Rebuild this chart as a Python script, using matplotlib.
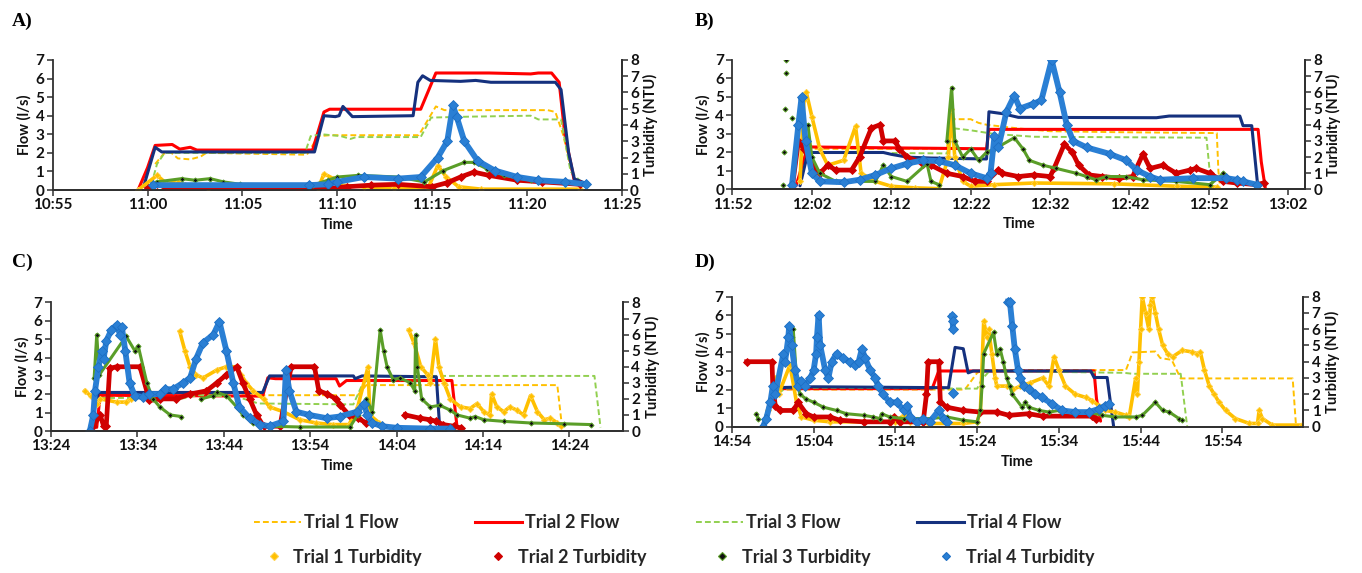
import numpy as np
import matplotlib
matplotlib.use('Agg')
import matplotlib.pyplot as plt
from matplotlib.lines import Line2D
import matplotlib.ticker as ticker

plt.rcParams['font.family'] = ['Lato', 'DejaVu Sans']

# ---- data: (minutes after panel start, value); None = gap in record ----
# Panel A, starts 10:55
a_flow1 = [(5.4, 1.4), (5.85, 1.95), (6.2, 2.05), (6.6, 1.7), (7.25, 1.65), (7.8, 1.8), (8.1, 2.0),
           (13.4, 1.9), (14.0, 2.9), (14.6, 2.95), (19.3, 2.95), (20.2, 4.5), (20.65, 4.3),
           (26.1, 4.3), (26.5, 4.2), (26.9, 3.0), (27.5, 0.5)]
a_flow2 = [(4.5, 0.0), (5.0, 1.2), (5.4, 2.4), (6.3, 2.45), (6.7, 2.2), (7.25, 2.3), (7.6, 2.15),
           (13.7, 2.15), (14.3, 4.2), (14.6, 4.35), (19.4, 4.35), (20.2, 6.3), (23.0, 6.3),
           (25.2, 6.25), (25.6, 6.3), (26.3, 6.3), (26.7, 5.8), (27.0, 3.0), (27.5, 0.5), (27.8, 0.3)]
a_flow3 = [(5.2, 0.3), (5.5, 1.4), (5.9, 2.0), (13.3, 2.0), (13.6, 2.9), (14.2, 3.0), (15.2, 2.9),
           (15.7, 2.75), (16.0, 2.85), (19.4, 2.85), (19.95, 3.9), (22.0, 3.95), (25.2, 4.0),
           (25.6, 3.8), (26.8, 3.8), (27.3, 1.0), (27.8, 0.5)]
a_flow4 = [(4.8, 0.2), (5.4, 2.3), (5.75, 2.05), (13.8, 2.05), (14.3, 4.0), (14.9, 3.95), (15.1, 4.0),
           (15.3, 4.5), (15.8, 3.95), (19.0, 4.0), (19.25, 5.8), (19.5, 6.15), (19.9, 5.9),
           (21.5, 5.85), (22.3, 5.9), (23.1, 5.8), (26.5, 5.8), (26.8, 5.4), (27.2, 2.0),
           (27.5, 0.6), (28.0, 0.4)]
a_turb1 = [(4.5, 0.0), (5.5, 0.9), (6.0, 0.4), (6.6, 0.5), (7.0, 0.3), (8.2, 0.1), (14.0, 0.1),
           (14.3, 1.0), (14.8, 0.7), (15.2, 0.3), (16.4, 0.2), (18.0, 0.1), (19.8, 0.15),
           (20.3, 1.5), (20.75, 0.8), (21.4, 0.2), (22.6, 0.05), (27.8, 0.05)]
a_turb2 = [(5.0, 0.1), (5.5, 0.4), (6.0, 0.1), (7.0, 0.05), (13.0, 0.05), (14.5, 0.1), (15.5, 0.2),
           (16.8, 0.3), (18.2, 0.35), (20.0, 0.2), (20.8, 0.45), (21.5, 0.8), (22.2, 1.1),
           (23.0, 0.9), (24.5, 0.6), (25.8, 0.5), (27.8, 0.35)]
a_turb3 = [(5.5, 0.5), (6.8, 0.7), (7.5, 0.6), (8.3, 0.7), (9.0, 0.5), (9.9, 0.35), (13.7, 0.3),
           (14.5, 0.6), (15.0, 0.8), (16.1, 0.9), (18.2, 0.8), (19.6, 0.5), (20.6, 1.2),
           (21.7, 1.7), (22.2, 1.7), (22.9, 1.3), (23.8, 0.9), (25.2, 0.6), (27.0, 0.5)]
a_turb4 = [(5.3, 0.3), (13.5, 0.3), (14.5, 0.35), (15.0, 0.5), (16.4, 0.8), (18.2, 0.7), (19.4, 0.8),
           (20.3, 2.0), (20.8, 3.0), (21.1, 5.2), (21.3, 4.5), (21.7, 3.0), (22.4, 1.8),
           (23.3, 1.2), (24.5, 0.8), (25.6, 0.6), (27.0, 0.5), (28.1, 0.35)]

# Panel B, starts 11:52
b_flow1 = [(8.5, 0.3), (9.2, 2.2), (27.0, 2.2), (27.5, 3.8), (30.0, 3.8), (31.0, 3.6), (32.0, 3.5),
           (36.0, 3.3), (40.0, 3.15), (48.0, 3.1), (61.0, 3.05), (61.2, 1.0), (61.4, 0.2)]
b_flow2 = [(8.0, 0.2), (9.5, 2.3), (20.0, 2.25), (32.0, 2.2), (32.3, 3.25), (66.2, 3.25),
           (66.6, 1.5), (67.1, 0.1)]
b_flow3 = [(8.5, 0.3), (9.5, 2.0), (27.0, 1.95), (28.0, 3.3), (30.0, 3.2), (33.0, 3.0), (38.0, 2.85),
           (59.7, 2.8), (60.1, 1.0), (60.5, 0.3)]
b_flow4 = [(8.5, 0.2), (9.5, 2.0), (19.0, 2.0), (20.0, 1.9), (22.0, 1.75), (25.0, 1.7), (32.0, 1.65),
           (32.3, 4.2), (34.0, 4.1), (36.0, 3.9), (53.4, 3.88), (55.0, 3.97), (63.9, 3.97),
           (64.3, 3.45), (65.4, 3.45), (66.2, 0.0)]
b_turb1 = [(8.5, 0.5), (9.0, 5.5), (9.3, 6.0), (10.0, 4.5), (11.0, 2.5), (12.0, 1.5), (14.0, 1.8),
           (15.5, 3.9), (16.2, 1.0), (18.0, 0.5), (20.0, 0.2), (23.0, 0.1), (26.0, 0.05),
           (27.2, 2.0), (27.5, 5.0), (28.0, 2.0), (29.0, 0.5), (30.0, 0.2), (33.0, 0.3),
           (38.0, 0.4), (48.0, 0.35), (56.0, 0.2), (61.0, 0.15)]
b_turb2 = [(7.5, 0.0), (8.3, 3.0), (9.0, 2.5), (10.0, 1.5), (11.0, 1.0), (12.0, 1.5), (13.0, 1.2),
           (15.0, 1.2), (16.0, 2.0), (17.5, 3.8), (18.6, 4.0), (19.0, 3.0), (20.5, 3.0),
           (21.0, 2.5), (22.0, 2.0), (24.0, 1.6), (25.0, 1.5), (27.0, 1.0), (29.0, 0.8),
           (30.5, 0.5), (32.0, 0.5), (33.5, 1.2), (34.0, 1.0), (36.0, 0.8), (38.0, 0.9),
           (40.0, 0.8), (40.5, 1.3), (41.8, 2.8), (42.8, 2.3), (43.6, 1.5), (44.9, 0.9),
           (46.6, 0.8), (48.7, 0.7), (50.4, 0.8), (51.7, 2.2), (52.6, 1.3), (54.2, 1.5),
           (55.9, 1.0), (57.6, 1.2), (58.4, 1.3), (60.1, 1.0), (61.8, 0.5), (63.5, 0.4),
           (66.0, 0.3), (66.9, 0.4)]
b_turb3 = [(6.3, 0.3), None, (6.5, 2.3), None, (6.6, 5.0), None, (6.7, 7.2), None, (6.8, 8.0), None,
           (7.5, 4.4), None, (9.5, 4.0), (10.0, 2.0), (11.0, 1.0), (13.0, 0.5), (18.0, 0.5),
           (19.0, 1.5), (20.0, 0.8), (22.0, 0.5), (24.5, 1.6), (25.0, 0.5), (26.0, 0.3), None,
           (27.0, 3.0), (27.6, 6.3), (28.0, 3.0), (29.0, 2.0), (30.0, 2.5), (31.0, 1.8),
           (32.0, 2.3), (33.0, 2.5), (35.5, 3.2), (36.6, 2.5), (37.4, 1.8), (39.1, 1.5),
           (40.8, 1.3), (43.3, 1.0), (44.6, 0.8), (45.8, 0.6), (47.1, 0.8), (49.6, 0.8),
           (51.7, 0.6), (55.9, 0.5), (60.1, 0.3), (61.4, 0.8), (61.8, 1.0)]
b_turb4 = [(7.5, 0.3), (8.3, 4.0), (8.7, 5.7), (9.2, 3.0), (10.0, 1.0), (11.0, 0.5), (14.0, 0.45),
           (16.0, 0.6), (18.0, 0.9), (20.0, 1.3), (22.0, 1.6), (24.0, 1.8), (26.0, 1.75),
           (28.0, 1.5), (30.0, 1.0), (32.0, 0.7), (32.5, 1.0), (33.0, 3.3), (33.5, 2.6),
           (34.5, 4.8), (35.5, 5.8), (36.2, 5.0), (37.9, 5.3), (38.9, 5.5), (40.2, 8.0),
           (41.2, 6.0), (42.1, 4.0), (42.9, 3.0), (44.6, 2.6), (47.5, 2.2), (49.6, 1.8),
           (50.9, 1.2), (52.6, 0.8), (53.8, 0.6), (58.0, 0.7), (62.2, 0.7), (63.5, 0.6),
           (64.3, 0.5), (66.0, 0.3)]

# Panel C, starts 13:24
c_flow1 = [(5.5, 1.9), (24.0, 1.95), (35.5, 1.95), (36.5, 2.5), (58.6, 2.5), (59.2, 0.0)]
c_flow2 = [(5.3, 0.2), (5.7, 1.95), (24.5, 1.9), (25.1, 2.9), (26.0, 2.85), (33.0, 2.85),
           (33.4, 2.45), (34.2, 2.75), (46.4, 2.75), (47.0, 0.2)]
c_flow3 = [(5.7, 1.8), (9.0, 1.8), (15.0, 1.75), (17.0, 1.95), (20.0, 1.9), (22.0, 1.8),
           (24.0, 1.5), (35.0, 1.45), (36.0, 2.5), (37.0, 3.0), (62.9, 3.0), (63.6, 0.2)]
c_flow4 = [(4.5, 0.2), (5.5, 2.1), (24.5, 2.1), (25.3, 3.0), (35.0, 3.0), (35.2, 2.85),
           (36.0, 3.0), (44.6, 2.95), (45.0, 0.1)]
c_turb1 = [(3.9, 2.5), (4.6, 2.2), (5.3, 1.7), (5.7, 2.0), (7.6, 1.8), (8.7, 1.8), (9.3, 2.0), None,
           (14.9, 6.2), (15.5, 5.0), (16.1, 4.0), (16.8, 3.5), (17.6, 3.3), (19.2, 3.8),
           (20.3, 4.0), (21.5, 4.0), (22.0, 3.5), (22.6, 3.0), (23.4, 2.5), (24.6, 2.0),
           (25.3, 1.5), (26.9, 1.2), (28.8, 0.7), (30.7, 0.5), (32.6, 0.4), (34.5, 0.4),
           (35.5, 1.5), (36.7, 4.0), (36.9, 1.0), (38.0, 0.5), None,
           (41.4, 6.3), (42.0, 5.5), (42.8, 4.0), (43.6, 3.5), (43.9, 3.0), (44.5, 5.7),
           (44.9, 4.0), (45.5, 3.0), (46.2, 2.0), (47.4, 1.5), (48.5, 1.4), (49.3, 1.7),
           (50.1, 1.2), (50.8, 1.0), (51.0, 2.3), (51.6, 1.5), (52.4, 1.2), (53.1, 1.5),
           (53.9, 1.3), (54.7, 1.0), (55.5, 2.2), (56.3, 1.2), (57.1, 0.7), (57.8, 0.8),
           (58.6, 0.5), (59.0, 0.3)]
c_turb2 = [(4.9, 0.3), (5.7, 1.0), (6.1, 0.3), (6.4, 0.3), (6.8, 3.9), (7.6, 4.0), (10.3, 4.0),
           (11.4, 1.9), (12.6, 2.0), (14.5, 2.0), (16.1, 2.3), (18.0, 2.5), (19.2, 3.0),
           (20.3, 3.5), (21.5, 4.0), (22.2, 3.0), (23.0, 2.0), (23.8, 1.0), (24.6, 0.3),
           (26.5, 0.3), (27.8, 4.0), (30.5, 4.0), (31.0, 2.5), (32.0, 2.3), (33.0, 2.0),
           (33.5, 1.6), (34.5, 1.0), (35.5, 0.8), (36.5, 0.5), None,
           (41.0, 1.0), (42.7, 0.8), (43.9, 0.7), (44.6, 0.6), (45.4, 0.4), (46.6, 0.3), (47.4, 0.2)]
c_turb3 = [(5.0, 3.3), (5.3, 6.0), (5.6, 3.5), (8.7, 5.9), (9.7, 5.0), (10.1, 5.3), (11.1, 3.0),
           (11.8, 2.0), (12.6, 1.5), (13.8, 1.0), (15.1, 0.9), None,
           (17.4, 2.0), (18.8, 2.2), (19.2, 2.4), (20.3, 2.2), (21.5, 1.5), (22.2, 1.0),
           (23.4, 0.5), (25.3, 0.3), (28.8, 0.25), (34.6, 0.25), (35.5, 1.0), (36.5, 2.0),
           (37.2, 1.2), (38.1, 6.3), (38.5, 5.0), (38.9, 4.0), (39.6, 3.2), (40.4, 3.3),
           (41.6, 3.0), (42.1, 2.5), (42.2, 6.0), (42.4, 4.0), (42.9, 2.0), (43.9, 1.5),
           (45.0, 1.6), (46.2, 1.3), (47.0, 1.0), (48.5, 0.8), (49.1, 0.9), (50.1, 0.7),
           (52.4, 0.6), (55.5, 0.5), (59.4, 0.45), (62.5, 0.4)]
c_turb4 = [(4.5, 0.0), (4.9, 1.0), (5.1, 2.5), (5.5, 4.0), (5.9, 5.0), (6.1, 4.5), (6.4, 5.6),
           (7.0, 6.3), (7.6, 6.6), (8.0, 6.0), (8.2, 6.5), (8.6, 5.0), (9.1, 3.0), (9.7, 2.2),
           (10.7, 2.1), (11.4, 2.3), (12.6, 2.3), (13.2, 2.6), (14.1, 2.6), (15.3, 3.0),
           (16.1, 3.3), (16.8, 4.5), (17.6, 5.5), (18.8, 6.0), (19.5, 6.8), (20.3, 5.0),
           (21.1, 3.0), (21.8, 1.5), (23.0, 0.8), (24.2, 0.4), (25.3, 0.3), (26.9, 0.6),
           (27.2, 3.8), (27.6, 2.5), (28.4, 1.2), (29.9, 1.0), (31.9, 0.8), (33.4, 0.9),
           (35.4, 1.2), (36.2, 1.7), (36.6, 1.0), (37.2, 0.5), (38.3, 0.3), (40.0, 0.2),
           (43.9, 0.15), (46.2, 0.15)]

# Panel D, starts 14:54
d_flow1 = [(5.6, 2.0), (10.4, 2.0), (28.5, 2.0), (29.0, 2.3), (30.0, 2.9), (30.8, 3.05),
           (48.2, 3.05), (48.6, 3.5), (49.0, 4.0), (51.8, 4.05), (52.4, 3.7), (53.8, 3.6),
           (54.9, 2.6), (68.6, 2.6), (69.0, 0.1)]
d_flow2 = [(5.0, 2.05), (24.5, 2.05), (25.3, 3.0), (44.3, 3.0), (44.6, 1.5), (45.1, 0.3)]
d_flow3 = [(5.7, 1.8), (6.5, 2.05), (10.4, 2.1), (30.0, 2.05), (30.5, 2.5), (31.5, 3.0),
           (48.0, 2.9), (49.0, 2.85), (54.9, 2.85), (55.7, 0.0)]
d_flow4 = [(3.8, 0.0), (5.1, 2.1), (10.0, 2.15), (26.5, 2.1), (27.3, 4.27), (28.3, 4.2),
           (28.9, 2.9), (29.5, 3.0), (43.9, 3.0), (44.3, 2.65), (45.9, 2.65), (46.7, 0.0)]
d_turb1 = [(3.8, 0.0), (4.4, 1.0), (5.3, 3.0), (5.7, 2.0), (7.1, 3.8), (7.9, 1.5), (8.5, 0.6),
           (10.0, 0.4), (12.0, 0.3), (20.0, 0.3), (21.0, 0.7), (21.8, 0.3), (24.0, 0.2),
           (28.3, 0.2), (30.0, 0.3), (30.4, 1.0), (30.8, 6.5), (31.2, 5.5), (31.4, 6.0),
           (31.8, 4.5), (32.2, 3.0), (32.4, 2.5), (33.6, 2.5), (34.4, 2.3), (35.3, 2.5),
           (36.5, 2.7), (38.0, 3.0), (38.8, 2.5), (39.4, 4.3), (40.0, 3.5), (40.8, 2.5),
           (42.0, 2.0), (43.3, 1.8), (44.1, 1.6), (44.9, 1.3), (45.7, 1.0), (46.9, 0.9),
           (48.2, 0.7), (48.6, 0.6), (49.4, 3.0), (49.6, 2.0), (49.8, 4.0), (50.0, 6.0),
           (50.2, 8.0), (50.6, 7.0), (51.0, 6.0), (51.2, 7.5), (51.4, 8.0), (51.8, 7.0),
           (52.2, 6.0), (52.7, 5.0), (53.3, 4.5), (53.9, 4.3), (55.1, 4.7), (56.3, 4.6),
           (56.9, 4.5), (57.3, 4.6), (57.8, 3.5), (58.4, 2.5), (59.0, 2.0), (59.6, 1.5),
           (60.4, 1.0), (61.6, 0.5), (63.3, 0.2), (64.3, 0.2), (64.5, 1.0), (64.9, 0.5),
           (66.1, 0.1), (69.8, 0.1)]
d_turb2 = [(1.8, 4.0), (4.9, 4.0), (5.0, 2.5), (5.3, 1.3), (5.9, 1.0), (7.5, 1.0), (8.1, 1.5),
           (9.1, 0.8), (10.0, 0.6), (12.0, 0.6), (13.2, 0.4), (16.1, 0.3), (19.3, 0.3),
           (19.8, 0.6), (20.6, 0.3), (23.4, 0.3), (23.8, 2.0), (24.0, 4.0), (25.3, 4.0),
           (25.5, 1.5), (26.3, 1.2), (28.3, 1.0), (30.4, 0.9), (32.4, 0.9), (33.9, 0.7),
           (36.3, 0.8), (38.0, 0.65), (44.1, 0.65), (44.5, 0.5)]
d_turb3 = [(3.0, 0.8), (3.2, 0.5), None,
           (7.3, 5.5), (7.5, 6.0), (7.9, 3.0), (8.3, 2.0), (9.1, 1.7), (10.0, 1.5), (11.2, 1.2),
           (12.8, 1.0), (14.0, 0.8), (16.1, 0.7), (17.3, 0.6), (18.1, 0.5), (18.3, 0.8),
           (19.3, 0.6), (21.0, 0.5), (24.2, 0.5), (26.3, 0.6), (28.3, 0.4), (30.0, 0.3),
           (30.4, 1.0), (30.6, 2.5), (30.8, 4.5), (32.0, 5.8), (32.4, 4.5), (32.8, 4.8),
           (33.2, 4.0), (33.6, 3.0), (34.0, 2.5), (34.3, 2.0), (35.5, 1.2), (35.9, 1.5),
           (36.3, 1.2), (37.6, 1.0), (38.8, 0.9), (40.0, 1.0), (42.0, 0.8), (43.7, 0.9),
           (45.3, 0.7), (46.9, 0.6), (49.4, 0.6), (50.2, 0.7), (51.8, 1.5), (52.7, 1.0),
           (53.5, 0.9), (54.7, 0.5), (55.1, 0.4)]
d_turb4 = [(3.8, 0.0), (4.2, 0.5), (4.7, 1.5), (5.0, 2.5), (5.3, 2.0), (6.3, 4.5), (6.5, 4.0),
           (6.9, 5.5), (7.0, 6.2), (7.3, 5.0), (7.7, 3.5), (8.1, 2.5), (8.5, 2.8), (8.9, 2.5),
           (9.6, 3.0), (10.0, 3.5), (10.3, 4.5), (10.4, 5.5), (10.6, 6.9), (10.8, 5.0),
           (11.4, 3.5), (11.8, 3.0), (12.2, 4.0), (12.8, 4.5), (13.6, 4.2), (14.4, 4.0),
           (15.1, 3.8), (15.5, 4.0), (15.9, 4.8), (16.3, 4.2), (16.9, 3.5), (17.5, 3.0),
           (17.9, 2.5), (18.5, 2.0), (19.3, 1.5), (20.2, 1.5), (21.0, 1.0), (21.4, 1.3),
           (21.8, 0.6), (22.6, 0.3), (23.4, 0.5), (24.2, 0.3), (25.3, 1.0), (25.9, 0.5),
           (26.3, 0.3), None, (26.95, 6.8), (27.0, 6.5), (27.05, 6.0), None, (27.1, 2.1), None,
           (33.8, 7.7), (34.0, 7.7), (34.3, 6.2), (34.6, 4.8), (35.0, 3.5), (35.3, 3.0),
           (35.7, 2.5), (36.3, 2.3), (37.1, 2.0), (37.9, 1.8), (39.2, 1.4), (40.4, 1.0),
           (42.0, 0.9), (43.7, 0.9), (44.9, 1.1), (45.7, 1.3), (46.1, 1.4)]

PANEL_LABELS = ['A)', 'B)', 'C)', 'D)']
PANEL_STARTS = ['10:55', '11:52', '13:24', '14:54']
PANEL_SPANS = [30.0, 72.1, 66.2, 69.9]      # minutes shown on x axis
PANEL_STEPS = [5, 10, 10, 10]
LEGEND_FLOW = ['Trial 1 Flow', 'Trial 2 Flow', 'Trial 3 Flow', 'Trial 4 Flow']
LEGEND_TURB = ['Trial 1 Turbidity', 'Trial 2 Turbidity', 'Trial 3 Turbidity', 'Trial 4 Turbidity']

FLOWS = [[a_flow1, a_flow2, a_flow3, a_flow4], [b_flow1, b_flow2, b_flow3, b_flow4],
         [c_flow1, c_flow2, c_flow3, c_flow4], [d_flow1, d_flow2, d_flow3, d_flow4]]
TURBS = [[a_turb1, a_turb2, a_turb3, a_turb4], [b_turb1, b_turb2, b_turb3, b_turb4],
         [c_turb1, c_turb2, c_turb3, c_turb4], [d_turb1, d_turb2, d_turb3, d_turb4]]

# ---- styles ----
YEL, RED, GRN, NAVY = '#FFC000', '#FF0000', '#92D050', '#15317E'
TRED, TGRN, TBLU = '#D00000', '#5A9E28', '#2A7FD4'
FLOW_STYLES = [dict(color=YEL, ls=(0, (3, 1.6)), lw=1.4),
               dict(color=RED, ls='-', lw=2.2),
               dict(color=GRN, ls=(0, (3, 1.6)), lw=1.4),
               dict(color=NAVY, ls='-', lw=2.2)]
TURB_STYLES = [dict(color=YEL, lw=2.6, marker='D', ms=3.2, mfc=YEL, mec='#FFD24D', mew=0.6),
               dict(color=TRED, lw=3.4, marker='D', ms=3.6, mfc=TRED, mec=TRED, mew=0.6),
               dict(color=TGRN, lw=2.2, marker='D', ms=2.6, mfc='#111111', mec=TGRN, mew=0.7),
               dict(color=TBLU, lw=4.2, marker='D', ms=4.6, mfc=TBLU, mec='#1D6FC4', mew=0.6)]

RECTS = [[0.0387, 0.6684, 0.4178, 0.2269],
         [0.5378, 0.6693, 0.4203, 0.2260],
         [0.0374, 0.2478, 0.4200, 0.2243],
         [0.5374, 0.2553, 0.4195, 0.2269]]
LABEL_POS = [(0.009, 0.962), (0.510, 0.962), (0.009, 0.543), (0.510, 0.543)]

AX_COL = '#303030'
TXT = '#111111'


def xy(points):
    arr = np.array([(np.nan, np.nan) if p is None else p for p in points], dtype=float)
    return arr[:, 0], arr[:, 1]


def clock_fmt(start):
    h0, m0 = (int(s) for s in start.split(':'))
    base = h0 * 60 + m0

    def fmt(v, pos):
        t = int(round(base + v))
        return f'{t // 60}:{t % 60:02d}'
    return ticker.FuncFormatter(fmt)


fig = plt.figure(figsize=(13.62, 5.73), dpi=100)

for i in range(4):
    ax = fig.add_axes(RECTS[i])
    ax2 = ax.twinx()
    for pts, st in zip(FLOWS[i], FLOW_STYLES):
        x, y = xy(pts)
        ax.plot(x, y, solid_capstyle='round', **st)
    for pts, st in zip(TURBS[i], TURB_STYLES):
        x, y = xy(pts)
        ax2.plot(x, y, solid_joinstyle='round', **st)

    span = PANEL_SPANS[i]
    ax.set_xlim(0, span)
    ax.set_ylim(0, 7)
    ax2.set_ylim(0, 8)
    ax.set_xticks(np.arange(0, span + 0.01, PANEL_STEPS[i]))
    ax.xaxis.set_major_formatter(clock_fmt(PANEL_STARTS[i]))
    ax.set_yticks(range(0, 8))
    ax2.set_yticks(range(0, 9))

    for a in (ax, ax2):
        a.spines['top'].set_visible(False)
        for s in ('left', 'right', 'bottom'):
            a.spines[s].set_color(AX_COL)
            a.spines[s].set_linewidth(1.3)
        a.tick_params(direction='out', length=4, width=1.1, color=AX_COL,
                      labelsize=11, labelcolor=TXT, pad=2)
        for lab in a.get_xticklabels() + a.get_yticklabels():
            lab.set_fontweight('bold')
    ax2.spines['left'].set_visible(False)

    ax.set_ylabel('Flow (l/s)', fontsize=10.5, fontweight='bold', color=TXT, labelpad=3)
    ax2.set_ylabel('Turbidity (NTU)', fontsize=10.5, fontweight='bold', color=TXT, labelpad=3)
    ax.set_xlabel('Time', fontsize=10.5, fontweight='bold', color=TXT, labelpad=4)

    fig.text(LABEL_POS[i][0], LABEL_POS[i][1], PANEL_LABELS[i], family='Liberation Serif',
             fontsize=14, fontweight='bold', va='center', ha='left', color='black')

flow_handles = [Line2D([], [], **st) for st in FLOW_STYLES]
turb_handles = [Line2D([], [], ls='none', marker='D', ms=4, mfc=st['mfc'], mec=st['mec'], mew=0.8)
                for st in TURB_STYLES]
leg_font = dict(size=13, weight='bold')
fig.legend(flow_handles, LEGEND_FLOW, loc='center', bbox_to_anchor=(0.483, 1 - 523 / 573),
           ncol=4, frameon=False, prop=leg_font, handlelength=2.6, handletextpad=0.2,
           columnspacing=4.2, labelcolor='#262626')
fig.legend(turb_handles, LEGEND_TURB, loc='center', bbox_to_anchor=(0.499, 1 - 557 / 573),
           ncol=4, frameon=False, prop=leg_font, handlelength=1.0, handletextpad=0.6,
           columnspacing=3.7, labelcolor='#262626')

fig.savefig('out.png', dpi=100)
